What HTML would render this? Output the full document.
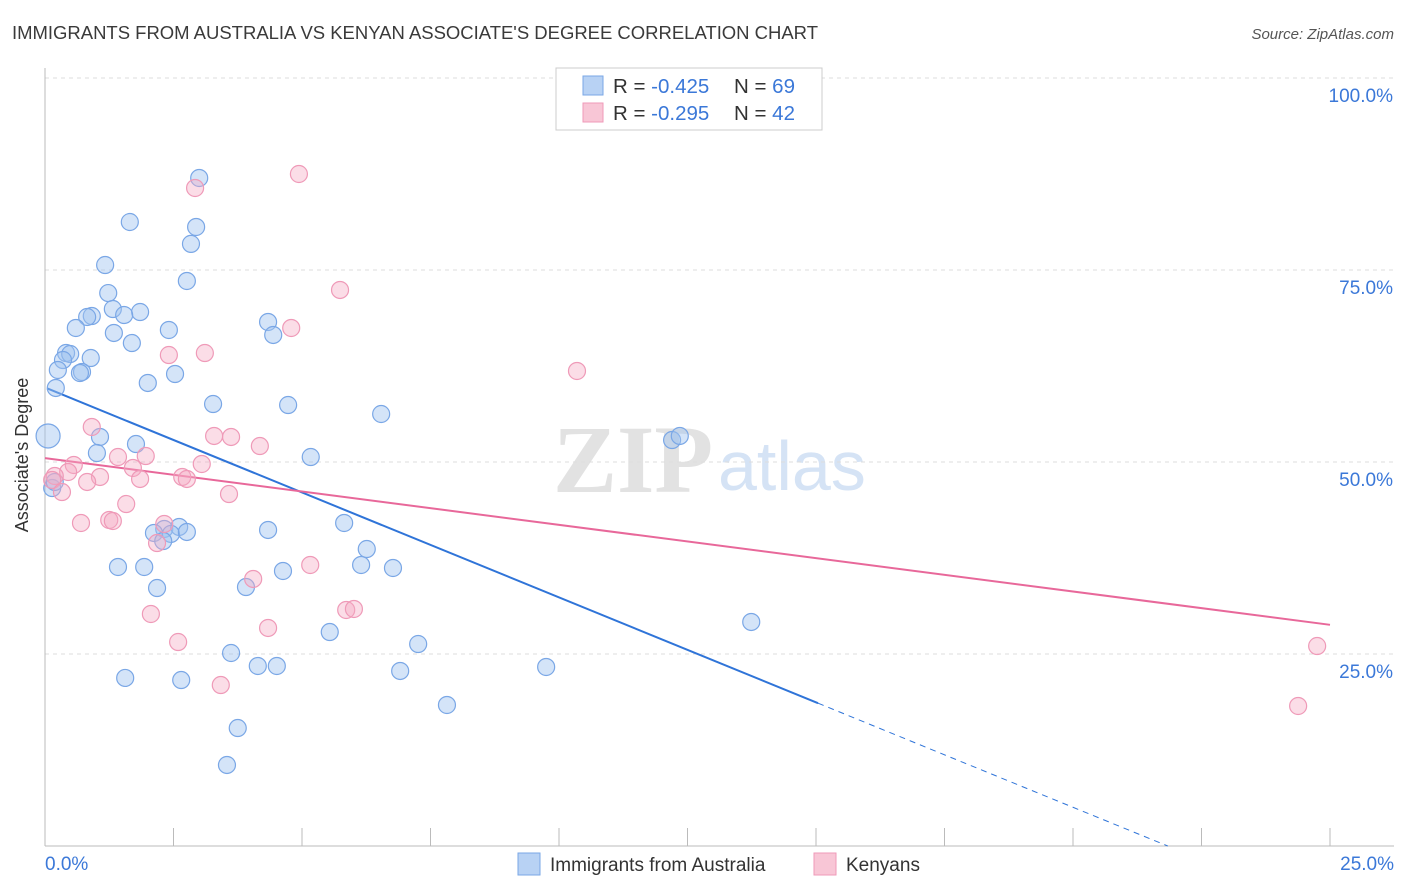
<!DOCTYPE html>
<html><head><meta charset="utf-8"><style>
body{margin:0;background:#fff;font-family:"Liberation Sans",sans-serif}
svg{display:block}
</style></head><body>
<svg id="chart" width="1406" height="892" viewBox="0 0 1406 892" xmlns="http://www.w3.org/2000/svg">
<text x="12" y="39" font-size="18.5" fill="#3a3a3a" textLength="806">IMMIGRANTS FROM AUSTRALIA VS KENYAN ASSOCIATE'S DEGREE CORRELATION CHART</text>
<text x="1394" y="39" font-size="15" fill="#555" font-style="italic" text-anchor="end">Source: ZipAtlas.com</text>
<g>
<text x="553" y="492" font-size="96" font-family="Liberation Serif,serif" font-weight="bold" fill="#e2e2e2">ZIP</text>
<text x="718" y="490" font-size="70" fill="#d5e3f5">atlas</text>
</g>
<g id="grid"></g>
<g id="axes"></g>
<g id="lines"></g>
<g id="points"></g>
<text x="28" y="455" font-size="18" fill="#333" text-anchor="middle" transform="rotate(-90 28 455)">Associate's Degree</text>
<g>
<rect x="556" y="68" width="266" height="62" fill="#fff" stroke="#ccc"/>
<rect x="583" y="76" width="20" height="19" fill="#b8d2f4" stroke="#7aa7e6"/>
<rect x="583" y="103" width="20" height="19" fill="#f8c6d6" stroke="#ef9ab8"/>
<text x="613" y="93" font-size="20.5" fill="#333">R = <tspan fill="#3b78d8">-0.425</tspan><tspan x="734">N = </tspan><tspan fill="#3b78d8">69</tspan></text>
<text x="613" y="120" font-size="20.5" fill="#333">R = <tspan fill="#3b78d8">-0.295</tspan><tspan x="734">N = </tspan><tspan fill="#3b78d8">42</tspan></text>
</g>
<g>
<rect x="518" y="853" width="22" height="22" fill="#b8d2f4" stroke="#7aa7e6"/>
<text x="550" y="871" font-size="19" fill="#333">Immigrants from Australia</text>
<rect x="814" y="853" width="22" height="22" fill="#f8c6d6" stroke="#ef9ab8"/>
<text x="846" y="871" font-size="19" fill="#333">Kenyans</text>
</g>
</svg>
<script>
const yTicks=[25,50,75,100];
const yTickLabels=["25.0%","50.0%","75.0%","100.0%"];
const xTicks=[0,2.5,5,7.5,10,12.5,15,17.5,20,22.5,25];
const xEndLabels=["0.0%","25.0%"];
const blueX=[3.00,1.65,2.94,2.84,1.17,2.76,1.23,1.32,1.85,1.54,0.91,0.82,0.60,2.41,4.34,4.44,1.34,1.69,0.41,0.49,0.35,0.89,0.25,0.72,0.68,2.53,2.00,0.21,3.27,4.73,6.54,1.07,1.77,1.01,5.17,12.2,12.35,0.06,0.14,0.19,5.82,4.34,2.32,2.61,2.12,2.45,2.76,2.30,6.26,1.42,1.93,6.15,6.77,4.63,2.18,3.91,5.54,13.74,7.26,3.62,4.14,4.51,6.91,9.75,1.56,2.65,7.82,3.75,3.54];
const blueY=[86.98,81.25,80.6,78.4,75.65,73.57,72.0,69.92,69.53,69.14,69.01,68.88,67.45,67.19,68.23,66.54,66.8,65.49,64.19,64.06,63.28,63.54,61.98,61.72,61.59,61.46,60.29,59.64,57.55,57.42,56.25,53.26,52.34,51.17,50.65,52.86,53.39,53.39,46.61,47.4,42.06,41.15,41.28,41.54,40.76,40.63,40.89,39.71,38.67,36.33,36.33,36.59,36.2,35.81,33.59,33.72,27.86,29.17,26.3,25.13,23.44,23.44,22.79,23.31,21.88,21.61,18.36,15.36,10.55];
const pinkX=[4.94,2.92,5.74,4.79,2.41,3.11,10.35,0.91,3.29,3.62,4.18,1.96,1.42,0.56,0.45,0.19,0.14,1.71,3.05,2.67,1.07,0.82,1.85,2.76,3.58,0.33,1.58,0.70,1.25,1.32,2.32,2.18,5.16,4.05,2.06,5.86,6.01,2.59,4.34,3.42,24.75,24.38];
const pinkY=[87.5,85.68,72.4,67.45,63.93,64.19,61.85,54.56,53.39,53.26,52.08,50.78,50.65,49.61,48.7,48.18,47.66,49.22,49.74,48.05,48.05,47.4,47.79,47.79,45.83,46.09,44.53,42.06,42.45,42.32,41.93,39.45,36.59,34.77,30.21,30.73,30.86,26.56,28.39,20.96,26.04,18.23];
const blueTrend=[59.7,-2.733];
const pinkTrend=[50.5,-0.868];
const blueSolidEnd=15.04;

const NS="http://www.w3.org/2000/svg";
const X0=45,X1=1330,Y0=846,Y100=78;
function sx(v){return X0+(v/25)*(X1-X0);}
function sy(v){return Y0-(v/100)*(Y0-Y100);}
function mk(tag,attrs,parent){const e=document.createElementNS(NS,tag);for(const k in attrs)e.setAttribute(k,attrs[k]);parent.appendChild(e);return e;}
const grid=document.getElementById('grid'),axes=document.getElementById('axes'),lines=document.getElementById('lines'),pts=document.getElementById('points');
yTicks.forEach((t,i)=>{
  const l=mk('line',{x1:45,x2:1394,y1:sy(t),y2:sy(t),stroke:'#ddd','stroke-dasharray':'4,4'},grid);
  
  
  const tx=mk('text',{x:1393,y:sy(t)+24,'font-size':19,fill:'#3b78d8','text-anchor':'end'},axes);
  tx.textContent=yTickLabels[i];
  
  
});
let a=mk('line',{x1:45,x2:45,y1:68,y2:846,stroke:'#bbb'},axes);


a=mk('line',{x1:45,x2:1394,y1:846,y2:846,stroke:'#bbb'},axes);


xTicks.forEach(t=>{
  const l=mk('line',{x1:sx(t),x2:sx(t),y1:828,y2:846,stroke:'#bbb'},axes);
  
  
});
let xl=mk('text',{x:45,y:870,'font-size':19,fill:'#3b78d8'},axes);xl.textContent=xEndLabels[0];


xl=mk('text',{x:1394,y:870,'font-size':19,fill:'#3b78d8','text-anchor':'end'},axes);xl.textContent=xEndLabels[1];



function pt(x,y,fill,stroke,name,r){
  const c=mk('circle',{cx:sx(x),cy:sy(y),r:r,fill:fill,stroke:stroke,'stroke-width':1.2},pts);
  
  
}
blueX.forEach((x,i)=>pt(x,blueY[i],'rgba(160,195,240,0.45)','#7aa7e6','point-australia',x<0.1?12:8.5));
pinkX.forEach((x,i)=>pt(x,pinkY[i],'rgba(245,170,195,0.4)','#ef9ab8','point-kenyans',8.5));

function ty(tr,x){return tr[0]+tr[1]*x;}
let ln=mk('line',{x1:sx(0.04),y1:sy(ty(blueTrend,0.04)),x2:sx(blueSolidEnd),y2:sy(ty(blueTrend,blueSolidEnd)),stroke:'#2f74d8','stroke-width':2},lines);


const xz=-blueTrend[0]/blueTrend[1];
ln=mk('line',{x1:sx(blueSolidEnd),y1:sy(ty(blueTrend,blueSolidEnd)),x2:sx(xz),y2:sy(0),stroke:'#2f74d8','stroke-width':1,'stroke-dasharray':'6,5'},lines);


ln=mk('line',{x1:sx(0),y1:sy(ty(pinkTrend,0)),x2:sx(25),y2:sy(ty(pinkTrend,25)),stroke:'#e8689a','stroke-width':2},lines);


</script>
</body></html>
